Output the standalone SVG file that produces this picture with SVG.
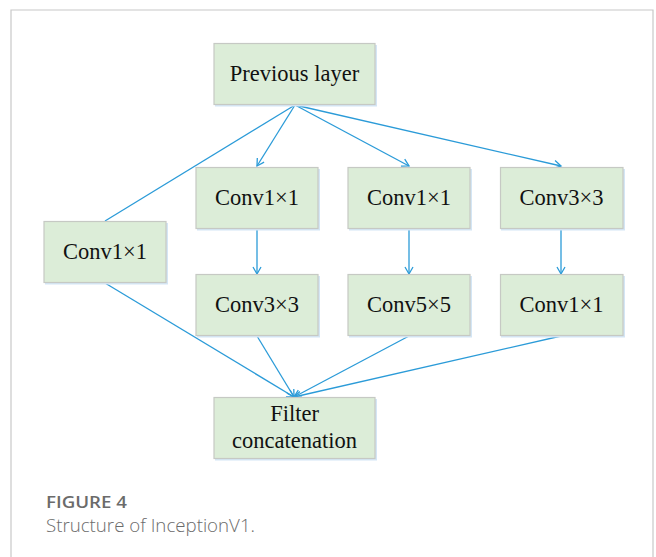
<svg xmlns="http://www.w3.org/2000/svg" width="656" height="557" viewBox="0 0 656 557">
<defs>
<style>
.box{fill:#dcedd8;stroke:#c6c9c4;stroke-width:1.2}
.sh{fill:none;stroke:#d4e6f5;stroke-width:2}
.lbl{font-family:"Liberation Serif","Times New Roman",serif;font-size:22.5px;fill:#111;text-anchor:middle}
.ln{stroke:#2b9bd8;stroke-width:1.3;fill:none}
.cap1{font-family:"Open Sans","Noto Sans",sans-serif;font-size:16.5px;font-weight:600;fill:#6b6b6b}
.cap2{font-family:"Open Sans","Noto Sans",sans-serif;font-size:17.5px;font-weight:300;fill:#6b6b6b}
</style>
<marker id="ah" markerWidth="10" markerHeight="10" refX="8" refY="5" orient="auto" markerUnits="userSpaceOnUse">
<path d="M1,1 L8,5 L1,9" fill="none" stroke="#2b9bd8" stroke-width="1.3"/>
</marker>
</defs>
<rect x="0" y="0" width="656" height="557" fill="#ffffff"/>
<path d="M11,560 L11,10 L653,10 L653,560" fill="none" stroke="#c8c8c8" stroke-width="1.2"/>

<g id="connectors">
<line class="ln" x1="295" y1="105" x2="105" y2="221"/>
<line class="ln" x1="295" y1="105" x2="257" y2="166" marker-end="url(#ah)"/>
<line class="ln" x1="295" y1="105" x2="409" y2="166" marker-end="url(#ah)"/>
<line class="ln" x1="295" y1="105" x2="561" y2="166" marker-end="url(#ah)"/>
<line class="ln" x1="257" y1="229" x2="257" y2="274" marker-end="url(#ah)"/>
<line class="ln" x1="409" y1="229" x2="409" y2="274" marker-end="url(#ah)"/>
<line class="ln" x1="561" y1="229" x2="561" y2="274" marker-end="url(#ah)"/>
<line class="ln" x1="105" y1="283" x2="294" y2="397" marker-end="url(#ah)"/>
<line class="ln" x1="257" y1="336" x2="294" y2="397" marker-end="url(#ah)"/>
<line class="ln" x1="409" y1="336" x2="294" y2="397" marker-end="url(#ah)"/>
<line class="ln" x1="561" y1="336" x2="294" y2="397" marker-end="url(#ah)"/>
</g>

<g id="prev">
<path class="sh" d="M215,105.5 L376,105.5 L376,45"/>
<rect class="box" x="214" y="43.5" width="161" height="61"/>
<text class="lbl" x="294.5" y="81">Previous layer</text>
</g>
<g id="left_conv1x1">
<path class="sh" d="M45,283.5 L167,283.5 L167,223"/>
<rect class="box" x="44" y="221.5" width="122" height="61"/>
<text class="lbl" x="105" y="259">Conv1×1</text>
</g>
<g id="b1_conv1x1">
<path class="sh" d="M197,229.5 L319,229.5 L319,169"/>
<rect class="box" x="196" y="167.5" width="122" height="61"/>
<text class="lbl" x="257" y="205">Conv1×1</text>
</g>
<g id="b2_conv1x1">
<path class="sh" d="M349,229.5 L471,229.5 L471,169"/>
<rect class="box" x="348" y="167.5" width="122" height="61"/>
<text class="lbl" x="409" y="205">Conv1×1</text>
</g>
<g id="b3_conv3x3">
<path class="sh" d="M501,229.5 L624,229.5 L624,169"/>
<rect class="box" x="500.5" y="167.5" width="122.5" height="61"/>
<text class="lbl" x="561.5" y="205">Conv3×3</text>
</g>
<g id="b1_conv3x3">
<path class="sh" d="M197,336.5 L319,336.5 L319,276"/>
<rect class="box" x="196" y="274.5" width="122" height="61"/>
<text class="lbl" x="257" y="312">Conv3×3</text>
</g>
<g id="b2_conv5x5">
<path class="sh" d="M349,336.5 L471,336.5 L471,276"/>
<rect class="box" x="348" y="274.5" width="122" height="61"/>
<text class="lbl" x="409" y="312">Conv5×5</text>
</g>
<g id="b3_conv1x1">
<path class="sh" d="M501,336.5 L624,336.5 L624,276"/>
<rect class="box" x="500.5" y="274.5" width="122.5" height="61"/>
<text class="lbl" x="561.5" y="312">Conv1×1</text>
</g>
<g id="concat">
<path class="sh" d="M215,459.5 L376,459.5 L376,399"/>
<rect class="box" x="214" y="397.5" width="161" height="61"/>
<text class="lbl" x="294.5" y="421">Filter</text>
<text class="lbl" x="294.5" y="448">concatenation</text>
</g>

<text class="cap1" x="46" y="508" textLength="81" lengthAdjust="spacingAndGlyphs">FIGURE 4</text>
<text class="cap2" x="46" y="532" textLength="209" lengthAdjust="spacingAndGlyphs">Structure of InceptionV1.</text>
</svg>
